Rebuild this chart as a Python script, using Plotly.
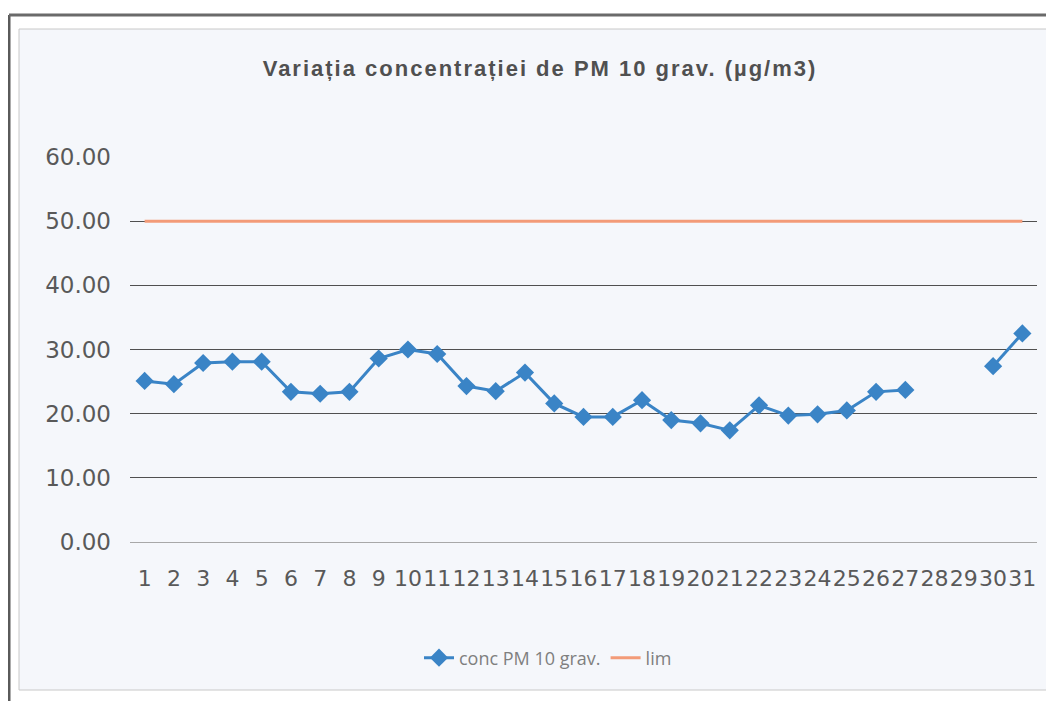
import plotly.graph_objects as go

days = [str(d) for d in range(1, 32)]
conc_pm10 = [25.1, 24.6, 27.9, 28.1, 28.1, 23.4, 23.1, 23.4, 28.6, 30.0,
             29.3, 24.3, 23.5, 26.4, 21.6, 19.5, 19.5, 22.1, 19.0, 18.5,
             17.4, 21.3, 19.7, 19.9, 20.5, 23.4, 23.7, None, None, 27.4, 32.5]
lim = [50.0] * 31
y_ticks = [0, 10, 20, 30, 40, 50, 60]
y_tick_text = [f"{v:.2f}" for v in y_ticks]

title_text = "Variația concentrației de PM 10 grav. (µg/m3)"

fig = go.Figure()
fig.add_trace(go.Scatter(
    x=days, y=conc_pm10, name="conc PM 10 grav.",
    mode="lines+markers",
    line=dict(color="#3a84c6", width=3),
    marker=dict(symbol="diamond", size=14, color="#3a84c6"),
    connectgaps=False,
))
fig.add_trace(go.Scatter(
    x=days, y=lim, name="lim", mode="lines",
    line=dict(color="#f39b78", width=3),
))

# page body has an 8px margin: lay out in window pixels, then offset
OFF = 8
W, H = 1054 - OFF, 701 - OFF
PL, PR, PT, PB = 130, 1037, 157, 542   # plot area in window pixels
L, R, T, B = PL - OFF, 1054 - PR, PT - OFF, 701 - PB
pw, ph = W - L - R, H - T - B


def px_x(p):
    return (p - PL) / pw


def px_y(p):
    return (PB - p) / ph


shapes = [
    dict(type="rect", xref="paper", yref="paper",
         x0=px_x(19), x1=px_x(1047), y0=px_y(690), y1=px_y(29),
         line=dict(color="#c8c8c8", width=1), fillcolor="#f5f7fb", layer="below"),
    dict(type="line", xref="paper", yref="paper",
         x0=px_x(9), x1=px_x(9), y0=px_y(701), y1=px_y(15),
         line=dict(color="#5a5a5a", width=3)),
    dict(type="line", xref="paper", yref="paper",
         x0=px_x(9), x1=px_x(1054), y0=px_y(15), y1=px_y(15),
         line=dict(color="#6a6a6a", width=3)),
]

fig.update_layout(
    width=W, height=H,
    margin=dict(l=L, r=R, t=T, b=B, autoexpand=False),
    paper_bgcolor="white",
    plot_bgcolor="rgba(0,0,0,0)",
    shapes=shapes,
    title=dict(text='<b><span style="letter-spacing:2px">' + title_text + "</span></b>",
               x=(540 - OFF) / W, xanchor="center",
               y=1 - (68 - OFF) / H, yanchor="middle",
               font=dict(family="Liberation Sans, Arial", size=22, color="#505050")),
    xaxis=dict(type="category", tickangle=0, showgrid=False,
               range=[-0.5, 30.5], autorange=False,
               showline=False, ticks="", zeroline=False,
               ticklabelstandoff=21,
               tickfont=dict(family="DejaVu Sans", size=22, color="#595959")),
    yaxis=dict(range=[0, 60], autorange=False, tickvals=y_ticks, ticktext=y_tick_text,
               showgrid=True, gridcolor="#505050", gridwidth=1,
               zeroline=True, zerolinecolor="#a8a8a8", zerolinewidth=1,
               ticks="", showline=False,
               ticklabelstandoff=18,
               tickfont=dict(family="DejaVu Sans", size=23, color="#595959")),
    legend=dict(orientation="h", x=px_x(548), xanchor="center",
                y=px_y(658), yanchor="middle",
                bgcolor="rgba(0,0,0,0)",
                font=dict(family="Open Sans", size=18, color="#7f7f7f")),
    showlegend=True,
)

fig.write_html("out.html")
